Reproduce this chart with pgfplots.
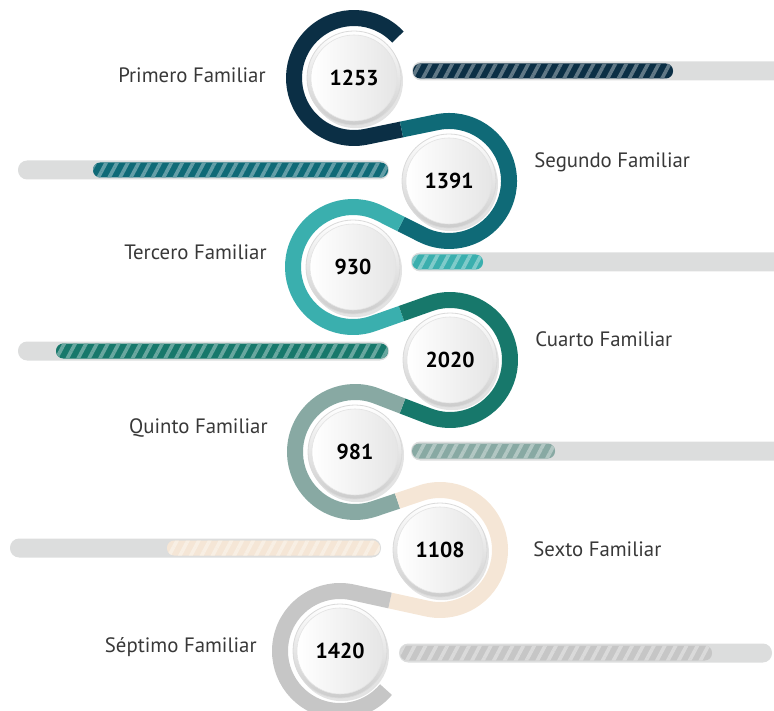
\documentclass[border=0pt]{standalone}
\usepackage{pgfplots}
\pgfplotsset{compat=1.18}
\usepackage{fontspec}
\setmainfont{PT Sans}
\usetikzlibrary{calc,patterns.meta,shadows}
\definecolor{cA}{HTML}{0B2F45}
\definecolor{cB}{HTML}{0F6A77}
\definecolor{cC}{HTML}{3AAFAE}
\definecolor{cD}{HTML}{17786B}
\definecolor{cE}{HTML}{88A9A3}
\definecolor{cF}{HTML}{F5E6D6}
\definecolor{cG}{HTML}{C6C6C6}
\definecolor{track}{HTML}{DCDDDD}
\definecolor{lab}{HTML}{383838}
\pgfplotsset{
  trackbar/.style={fill=track, draw=none, rounded corners=4.6pt},
  fillbar/.style={fill=#1, draw=none, rounded corners=3.6pt,
    postaction={pattern={Lines[angle=62,distance=4.8pt,line width=1.8pt]}, pattern color=#1!65!white}},
}
\begin{document}
\begin{tikzpicture}
\begin{axis}[
  name=ax,
  width=387pt, height=355pt, scale only axis,
  xmin=0, xmax=774, ymin=0, ymax=710, y dir=reverse,
  hide axis,
]
% ---- rings ----
\def\R{30pt}
\tikzset{ring/.style={line width=8pt, line cap=butt, line join=round}}
\draw[ring, cA] ($(axis cs:354,78)+(43:\R)$) arc[start angle=43, end angle=281.6, radius=\R] -- (axis cs:401.5,129.5);
\draw[ring, cB] (axis cs:401.5,129.5) -- ($(axis cs:449,181)+(101.6:\R)$) arc[start angle=101.6, end angle=-116.7, radius=\R] -- (axis cs:401,224);
\draw[ring, cC] (axis cs:401,224) -- ($(axis cs:353,267)+(63.3:\R)$) arc[start angle=63.3, end angle=289.44, radius=\R] -- (axis cs:401.5,313.5);
\draw[ring, cD] (axis cs:401.5,313.5) -- ($(axis cs:450,360)+(109.44:\R)$) arc[start angle=109.44, end angle=-111.1, radius=\R] -- (axis cs:402.5,406);
\draw[ring, cE] (axis cs:402.5,406) -- ($(axis cs:355,452)+(68.9:\R)$) arc[start angle=68.9, end angle=288.6, radius=\R] -- (axis cs:397.5,501);
\draw[ring, cF] (axis cs:397.5,501) -- ($(axis cs:440,550)+(108.6:\R)$) arc[start angle=108.6, end angle=-102.3, radius=\R] -- (axis cs:390,600.5);
\draw[ring, cG] (axis cs:390,600.5) -- ($(axis cs:340,651)+(77.7:\R)$) arc[start angle=77.7, end angle=320, radius=\R];
% ---- bar tracks ----
\addplot[trackbar] coordinates {(412,61.5) (790,61.5) (790,80.5) (412,80.5)} -- cycle;
\addplot[trackbar] coordinates {(18,160.5) (389,160.5) (389,179.5) (18,179.5)} -- cycle;
\addplot[trackbar] coordinates {(411,252.5) (790,252.5) (790,271.5) (411,271.5)} -- cycle;
\addplot[trackbar] coordinates {(18,341.5) (389,341.5) (389,360.5) (18,360.5)} -- cycle;
\addplot[trackbar] coordinates {(411,441.5) (790,441.5) (790,460.5) (411,460.5)} -- cycle;
\addplot[trackbar] coordinates {(10,538.5) (381,538.5) (381,557.5) (10,557.5)} -- cycle;
\addplot[trackbar] coordinates {(399,643.5) (772,643.5) (772,662.5) (399,662.5)} -- cycle;
% ---- bar fills ----
\addplot[fillbar=cA] coordinates {(413,63.5) (673,63.5) (673,78.5) (413,78.5)} -- cycle;
\addplot[fillbar=cB] coordinates {(93,162.5) (388,162.5) (388,177.5) (93,177.5)} -- cycle;
\addplot[fillbar=cC] coordinates {(412,254.5) (483,254.5) (483,269.5) (412,269.5)} -- cycle;
\addplot[fillbar=cD] coordinates {(56,343.5) (388,343.5) (388,358.5) (56,358.5)} -- cycle;
\addplot[fillbar=cE] coordinates {(412,443.5) (555,443.5) (555,458.5) (412,458.5)} -- cycle;
\addplot[fillbar=cF] coordinates {(167,540.5) (380,540.5) (380,555.5) (167,555.5)} -- cycle;
\addplot[fillbar=cG] coordinates {(400,645.5) (712,645.5) (712,660.5) (400,660.5)} -- cycle;
% ---- discs ----
\addplot[draw=none, mark=none, point meta=explicit symbolic, nodes near coords={},
  nodes near coords style={anchor=center, circle, minimum size=47pt, inner sep=0pt,
    draw=gray!30, line width=0.4pt, top color=white, bottom color=gray!40,
    drop shadow={opacity=0.22, shadow xshift=1.0pt, shadow yshift=-1.6pt}}]
  coordinates {(354,78)[1253] (449,181)[1391] (353,267)[930] (450,360)[2020] (355,452)[981] (440,550)[1108] (340,651)[1420]};
\addplot[draw=none, mark=none, point meta=explicit symbolic, nodes near coords,
  nodes near coords style={anchor=center, circle, minimum size=43pt, inner sep=0pt,
    draw=gray!22, line width=0.3pt, left color=white, right color=gray!20, text=black,
    font=\bfseries\fontsize{10.8}{12}\selectfont}]
  coordinates {(354,78)[1253] (449,181)[1391] (353,267)[930] (450,360)[2020] (355,452)[981] (440,550)[1108] (340,651)[1420]};
% ---- labels ----
\tikzset{lb/.style={text=lab, font=\fontsize{10.4}{12}\selectfont, inner sep=0pt}}
\node[lb, anchor=east] at (axis cs:266,75) {Primero Familiar};
\node[lb, anchor=west] at (axis cs:534,162) {Segundo Familiar};
\node[lb, anchor=east] at (axis cs:267,252) {Tercero Familiar};
\node[lb, anchor=west] at (axis cs:535,339) {Cuarto Familiar};
\node[lb, anchor=east] at (axis cs:268,428) {Quinto Familiar};
\node[lb, anchor=west] at (axis cs:533,549) {Sexto Familiar};
\node[lb, anchor=east] at (axis cs:257,647) {Séptimo Familiar};
\end{axis}
\pgfresetboundingbox
\path (ax.south west) rectangle (ax.north east);
\end{tikzpicture}
\end{document}
